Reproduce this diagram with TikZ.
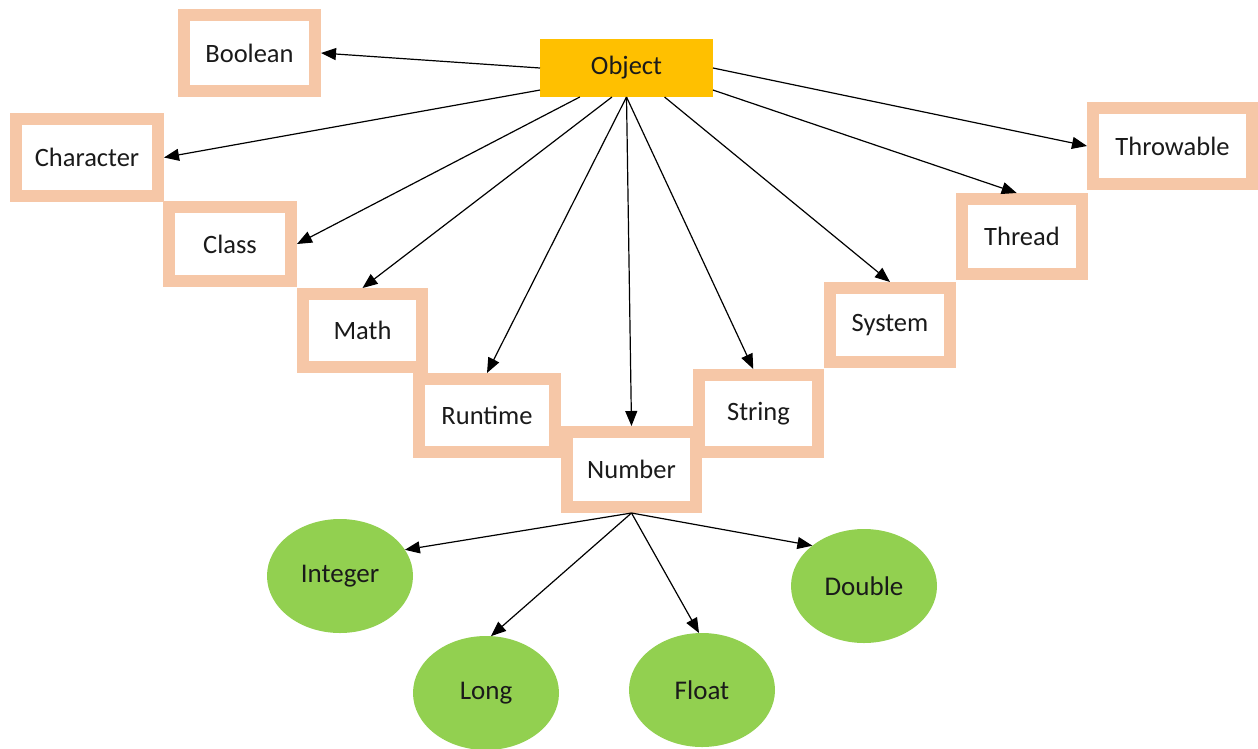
\documentclass[tikz,border=0pt]{standalone}
\usepackage{fontspec}
\setmainfont{Carlito}
\usetikzlibrary{arrows.meta,shapes.geometric,calc}

\definecolor{peach}{HTML}{F6C7A7}
\definecolor{gold}{HTML}{FFC000}
\definecolor{leaf}{HTML}{92D050}
\definecolor{ink}{HTML}{1A1A1A}

\tikzset{
  classbox/.style 2 args={rectangle, draw=peach, line width=12pt, outer sep=6pt,
    inner sep=0pt, minimum width=#1pt-12pt, minimum height=#2pt-12pt,
    text=ink, font=\fontsize{26.5}{30}\selectfont},
  rootbox/.style={rectangle, fill=gold, inner sep=0pt, outer sep=0pt,
    minimum width=173pt, minimum height=58pt, text=ink,
    font=\fontsize{26.5}{30}\selectfont},
  numtype/.style={ellipse, fill=leaf, inner sep=0pt, outer sep=0pt,
    minimum width=146pt, minimum height=114pt, text=ink,
    font=\fontsize{27}{30}\selectfont},
  arr/.style={draw=black, line width=1.2pt, -{Triangle[length=15pt,width=12pt]}}
}

\begin{document}
\begin{tikzpicture}[x=1pt, y=-1pt]
\useasboundingbox (0,0) rectangle (1258,748);

% root class
\node[rootbox] (obj) at (626.5,68) {Object};

% direct subclasses, laid out as a staircase
\node[classbox={143}{88}] (bool) at (249.5,53) {Boolean};
\node[classbox={154}{89}] (char) at (87,157.5) {Character};
\node[classbox={134}{86}] (cls) at (230,244) {Class};
\node[classbox={131}{85}] (math) at (362.5,330.5) {Math};
\node[classbox={148}{85}] (run) at (487,415.5) {Runtime};
\node[classbox={141}{87}] (num) at (631.5,469.5) {Number};
\node[classbox={131}{89}] (str) at (758.5,413.5) {String};
\node[classbox={132}{86}] (sys) at (890,325) {System};
\node[classbox={132}{87}] (thr) at (1022,236.5) {Thread};
\node[classbox={171}{88}] (thw) at (1172.5,146) {Throwable};

% numeric wrappers
\node[numtype] (int) at (340,576) {Integer};
\node[numtype] (long) at (486,693) {Long};
\node[numtype] (flt) at (702,690) {Float};
\node[numtype] (dbl) at (864,586) {Double};

% Object -> subclasses
\draw[arr] (obj.west) -- (bool.east);
\draw[arr] ($(obj.west)!0.76!(obj.south west)$) -- (char.east);
\draw[arr] ($(obj.south west)!0.23!(obj.south east)$) -- (cls.east);
\draw[arr] ($(obj.south west)!0.416!(obj.south east)$) -- (math.north);
\draw[arr] (obj.south) -- (run.north);
\draw[arr] (obj.south) -- (num.north);
\draw[arr] (obj.south) -- ($(str.north west)!0.46!(str.north east)$);
\draw[arr] ($(obj.south west)!0.72!(obj.south east)$) -- (sys.north);
\draw[arr] ($(obj.east)!0.76!(obj.south east)$) -- ($(thr.north west)!0.46!(thr.north east)$);
\draw[arr] (obj.east) -- (thw.west);

% Number -> wrappers
\draw[arr] (num.south) -- (int.22);
\draw[arr] (num.south) -- (long.85);
\draw[arr] (num.south) -- (flt.93);
\draw[arr] (num.south) -- (dbl.142);
\end{tikzpicture}
\end{document}
